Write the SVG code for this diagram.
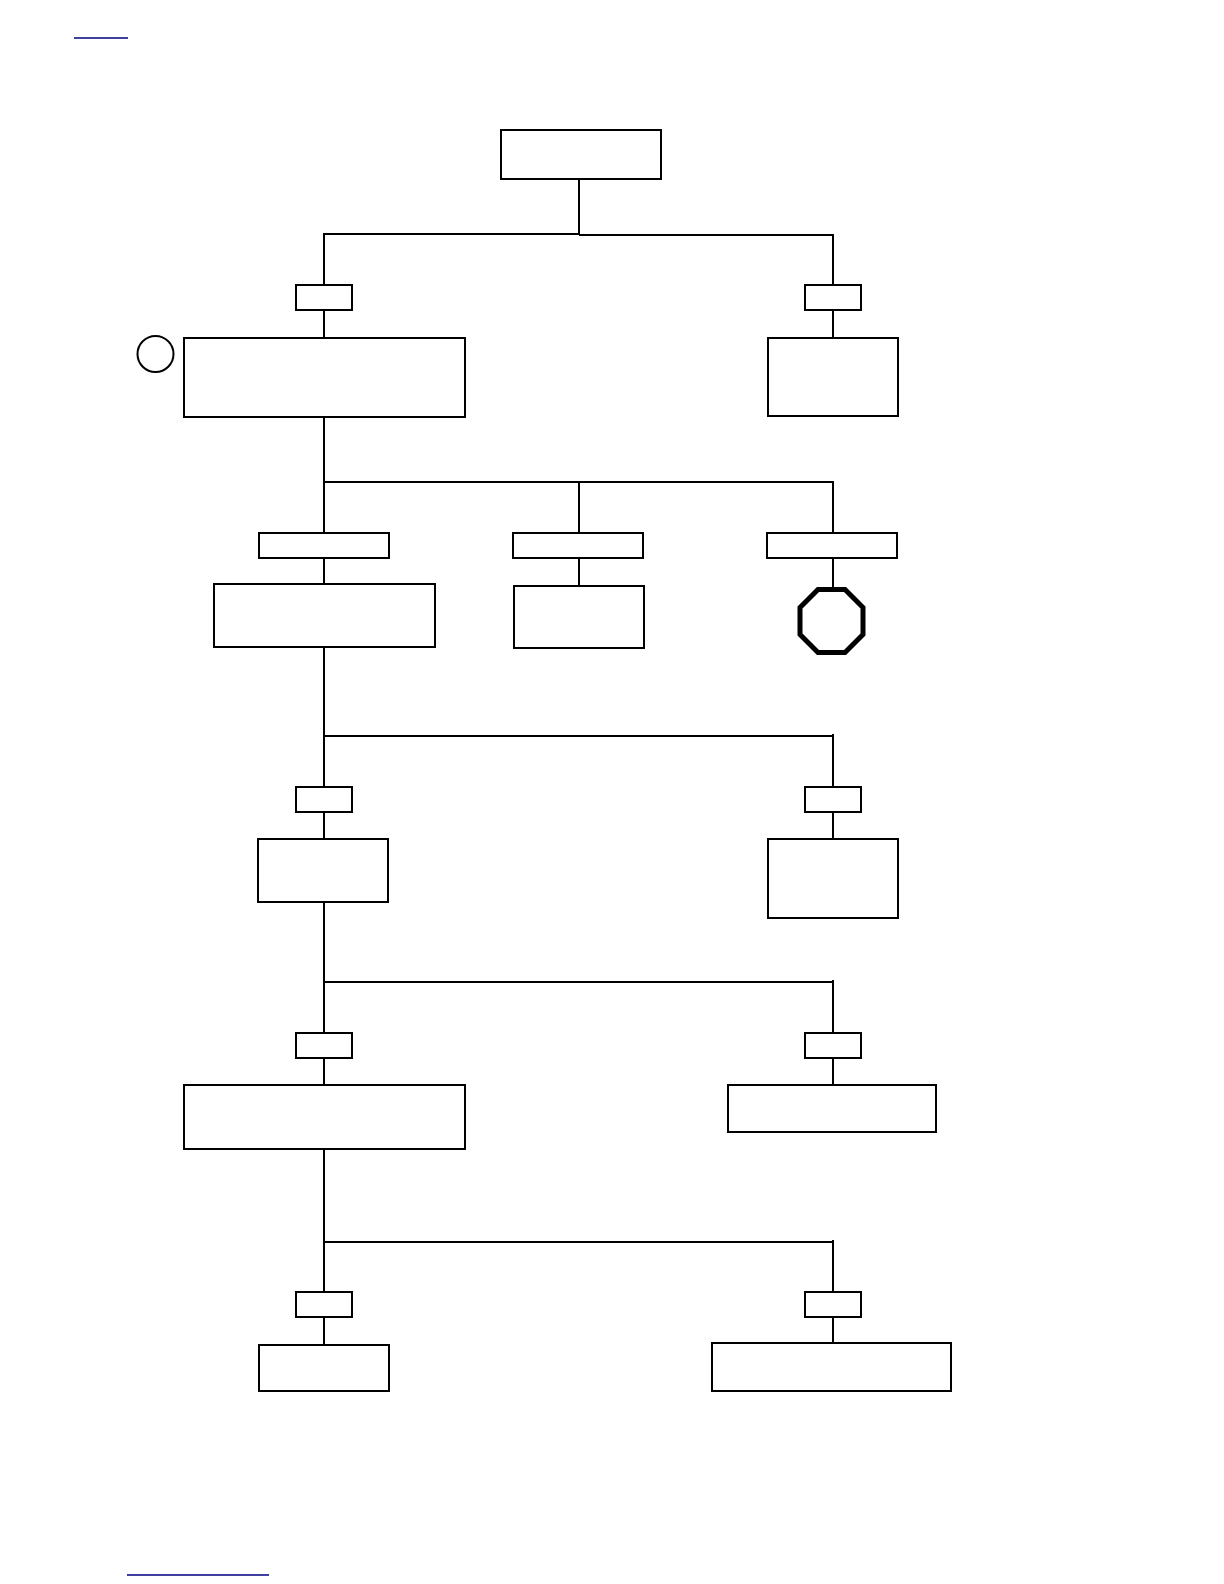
<svg xmlns="http://www.w3.org/2000/svg" width="1224" height="1584" viewBox="0 0 1224 1584">
<style>
.b{fill:#fff;stroke:#000;stroke-width:2}
.c{fill:none;stroke:#000;stroke-width:2}
.l{fill:none;stroke:#000080;stroke-width:1.500}
</style>
<rect width="1224" height="1584" fill="#fff"/>
<g id="connectors" class="c">
<path d="M579 179V234H324V338M579 235H833V338"/>
<path d="M324 417V584M324 482H833V533M579 482V586M833 558V587"/>
<path d="M324 647V839M324 736H833M833 734V839"/>
<path d="M324 902V1085M324 982H833M833 980V1085"/>
<path d="M324 1149V1345M324 1242H833M833 1240V1343"/>
</g>
<g id="link-top"><path class="l" d="M74 38H128"/></g>
<g id="link-bottom"><path class="l" d="M127 1575H269"/></g>
<g id="n1"><rect class="b" x="501" y="130" width="160" height="49"/></g>
<g id="n2"><rect class="b" x="296" y="285" width="56" height="25"/></g>
<g id="n3"><rect class="b" x="805" y="285" width="56" height="25"/></g>
<g id="n4"><circle class="b" cx="155.500" cy="354" r="18"/></g>
<g id="n5"><rect class="b" x="184" y="338" width="281" height="79"/></g>
<g id="n6"><rect class="b" x="768" y="338" width="130" height="78"/></g>
<g id="n7"><rect class="b" x="259" y="533" width="130" height="25"/></g>
<g id="n8"><rect class="b" x="513" y="533" width="130" height="25"/></g>
<g id="n9"><rect class="b" x="767" y="533" width="130" height="25"/></g>
<g id="n10"><rect class="b" x="214" y="584" width="221" height="63"/></g>
<g id="n11"><rect class="b" x="514" y="586" width="130" height="62"/></g>
<g id="n12"><polygon points="818,589.500 845,589.500 863,607.500 863,634.500 845,652.500 818,652.500 800,634.500 800,607.500" fill="#fff" stroke="#000" stroke-width="5"/></g>
<g id="n13"><rect class="b" x="296" y="787" width="56" height="25"/></g>
<g id="n14"><rect class="b" x="805" y="787" width="56" height="25"/></g>
<g id="n15"><rect class="b" x="258" y="839" width="130" height="63"/></g>
<g id="n16"><rect class="b" x="768" y="839" width="130" height="79"/></g>
<g id="n17"><rect class="b" x="296" y="1033" width="56" height="25"/></g>
<g id="n18"><rect class="b" x="805" y="1033" width="56" height="25"/></g>
<g id="n19"><rect class="b" x="184" y="1085" width="281" height="64"/></g>
<g id="n20"><rect class="b" x="728" y="1085" width="208" height="47"/></g>
<g id="n21"><rect class="b" x="296" y="1292" width="56" height="25"/></g>
<g id="n22"><rect class="b" x="805" y="1292" width="56" height="25"/></g>
<g id="n23"><rect class="b" x="259" y="1345" width="130" height="46"/></g>
<g id="n24"><rect class="b" x="712" y="1343" width="239" height="48"/></g>
</svg>
